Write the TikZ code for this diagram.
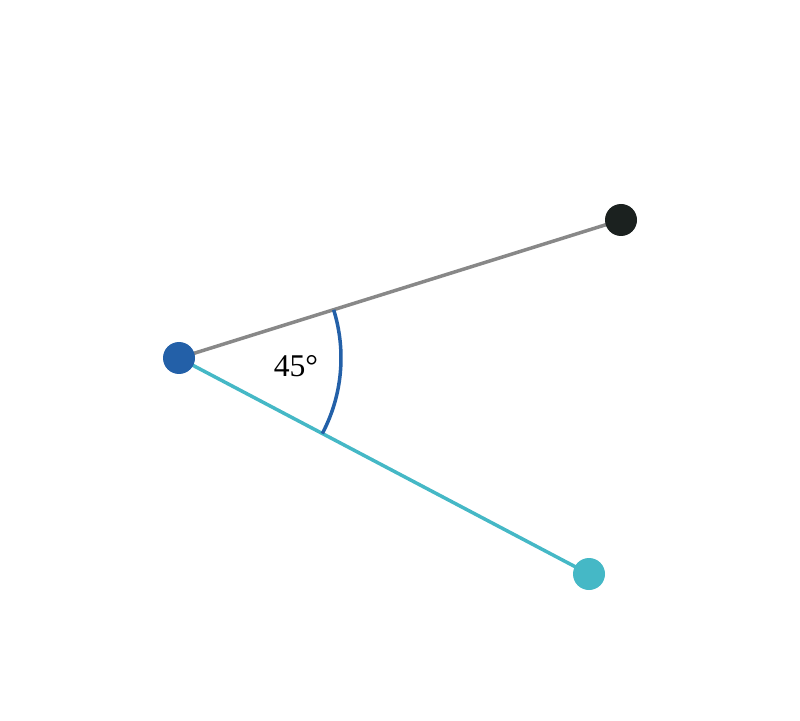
\documentclass[tikz,border=0pt]{standalone}
\usepackage{fontspec}
\setmainfont{Liberation Serif}
\usetikzlibrary{backgrounds}
\definecolor{vblue}{HTML}{2360A8}
\definecolor{vgray}{HTML}{888888}
\definecolor{vteal}{HTML}{45B8C6}
\definecolor{vblack}{HTML}{1B211F}
\tikzset{dot/.style={circle,inner sep=0pt,minimum size=0.64cm},
  ray/.style={line width=0.07cm}}
\begin{document}
\begin{tikzpicture}
    \useasboundingbox (0,0) rectangle (16,14.4);
    \node [dot,fill=vblue] (o) at (3.58,7.24) {};
    \node [dot,fill=vblack] (a) at (12.42,10.0) {};
    \node [dot,fill=vteal] (b) at (11.78,2.92) {};
    \begin{pgfonlayer}{background}
    \draw [vgray,ray](o.center)--(a.center);
    \draw [vteal,ray](o.center)--(b.center);
    \end{pgfonlayer}
    \draw [vblue,ray](o.center) ++(17.3:3.24) arc (17.3:-27.8:3.24);
    \node (lab) at (5.92,7.08) {\fontsize{18}{21}\selectfont 45°};
  \end{tikzpicture}
\end{document}
